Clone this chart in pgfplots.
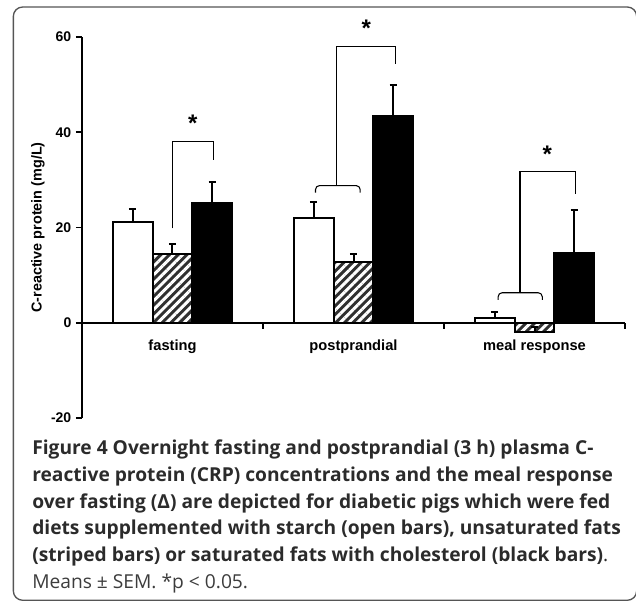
\documentclass[border=0pt]{standalone}
\usepackage{fontspec}
\setmainfont{Liberation Sans}
\newfontfamily\capfont{Open Sans}
\usepackage{pgfplots}
\pgfplotsset{compat=1.18}
\usetikzlibrary{patterns.meta}
\definecolor{capgray}{HTML}{2B2B2B}
\definecolor{meangray}{HTML}{3C3C3C}
\definecolor{stripe}{HTML}{303030}
\definecolor{framegray}{HTML}{555555}

\pgfplotstableread{
x y e
0 21.1 2.8
1 22.0 3.4
2 1.0 1.3
}\starch
\pgfplotstableread{
x y e
0 14.5 2.1
1 12.8 1.7
2 -1.9 1.0
}\unsat
\pgfplotstableread{
x y e
0 25.2 4.4
1 43.4 6.5
2 14.75 8.85
}\sat

\begin{document}
\begin{tikzpicture}
\useasboundingbox (0,0) rectangle (477pt,-451.5pt);
\begin{scope}
\clip (0,0) rectangle (477pt,-451.5pt);
\draw[line width=1pt, framegray, rounded corners=7pt] (10pt,-5.25pt) rectangle (477.5pt,-450.2pt);
\end{scope}

\begin{axis}[
  at={(61.5pt,-313.5pt)}, anchor=south west,
  scale only axis, width=407.25pt, height=285.75pt,
  xmin=-0.5, xmax=2.5, ymin=-20, ymax=60,
  ybar=0pt, bar width=0.22,
  axis y line*=left, axis x line*=middle,
  axis line style={line width=1.6pt, black},
  clip=false,
  ytick={-20,0,20,40,60},
  xtick={0.5,1.5,2.5}, xticklabels={},
  extra x ticks={0,1,2},
  extra x tick labels={fasting,postprandial,meal response},
  extra x tick style={major tick length=0pt,
     xticklabel style={anchor=base, yshift=-21pt}},
  tick align=outside, major tick length=4.5pt,
  tick style={line width=1.4pt, black},
  xticklabel style={font=\bfseries\fontsize{11}{12}\selectfont},
  yticklabel style={font=\bfseries\fontsize{10.5}{12}\selectfont},
  /pgf/number format/assume math mode=true,
  ylabel={C-reactive protein (mg/L)},
  ylabel style={font=\bfseries\fontsize{10.8}{12}\selectfont,
     at={(axis description cs:-0.081,0.5)}, anchor=center},
  error bars/error bar style={line width=1.5pt, black, solid},
  error bars/error mark options={rotate=90, line width=1.5pt, black, mark size=2.8pt, solid},
]
\addplot[bar shift=-0.22, draw=black, fill=white, line width=1.4pt,
  error bars/.cd, y dir=plus, y explicit]
  table[x=x, y=y, y error=e] {\starch};
\addplot[bar shift=0, draw=black, line width=1.4pt,
  preaction={fill=stripe},
  pattern={Lines[angle=45,distance=4.6pt,line width=2.2pt]}, pattern color=white,
  error bars/.cd, y dir=plus, y explicit]
  table[x=x, y=y, y error=e] {\unsat};
\addplot[bar shift=0.22, draw=black, fill=black, line width=1.4pt,
  error bars/.cd, y dir=plus, y explicit]
  table[x=x, y=y, y error=e] {\sat};

% significance brackets
\draw[line width=0.8pt] (axis cs:0,19.8) -- (axis cs:0,38.0) -- (axis cs:0.224,38.0) -- (axis cs:0.224,34.1);
\node[font=\bfseries\fontsize{18}{18}\selectfont, inner sep=0pt] at (axis cs:0.112,41.8) {*};

\draw[line width=0.8pt, rounded corners=3pt] (axis cs:0.79,27.3) -- (axis cs:0.79,28.8) -- (axis cs:1.037,28.8) -- (axis cs:1.037,27.3);
\draw[line width=0.8pt] (axis cs:0.907,28.8) -- (axis cs:0.907,58.1) -- (axis cs:1.232,58.1) -- (axis cs:1.232,54.3);
\node[font=\bfseries\fontsize{18}{18}\selectfont, inner sep=0pt] at (axis cs:1.07,61.8) {*};

\draw[line width=0.8pt, rounded corners=3pt] (axis cs:1.799,4.8) -- (axis cs:1.799,6.3) -- (axis cs:2.043,6.3) -- (axis cs:2.043,4.8);
\draw[line width=0.8pt] (axis cs:1.92,6.3) -- (axis cs:1.92,31.7) -- (axis cs:2.225,31.7) -- (axis cs:2.225,27.1);
\node[font=\bfseries\fontsize{18}{18}\selectfont, inner sep=0pt] at (axis cs:2.07,35.3) {*};
\end{axis}

\node[anchor=base west, align=left, inner sep=0pt, text=capgray,
  font=\capfont\bfseries\fontsize{14.4}{20}\selectfont] at (24pt,-441pt)
{Figure 4 Overnight fasting and postprandial (3 h) plasma C-\\
reactive protein (CRP) concentrations and the meal response\\
over fasting (Δ) are depicted for diabetic pigs which were fed\\
diets supplemented with starch (open bars), unsaturated fats\\
(striped bars) or saturated fats with cholesterol (black bars){\mdseries.}\\
{\mdseries\color{meangray}Means ± SEM. *p < 0.05.}};
\end{tikzpicture}
\end{document}
